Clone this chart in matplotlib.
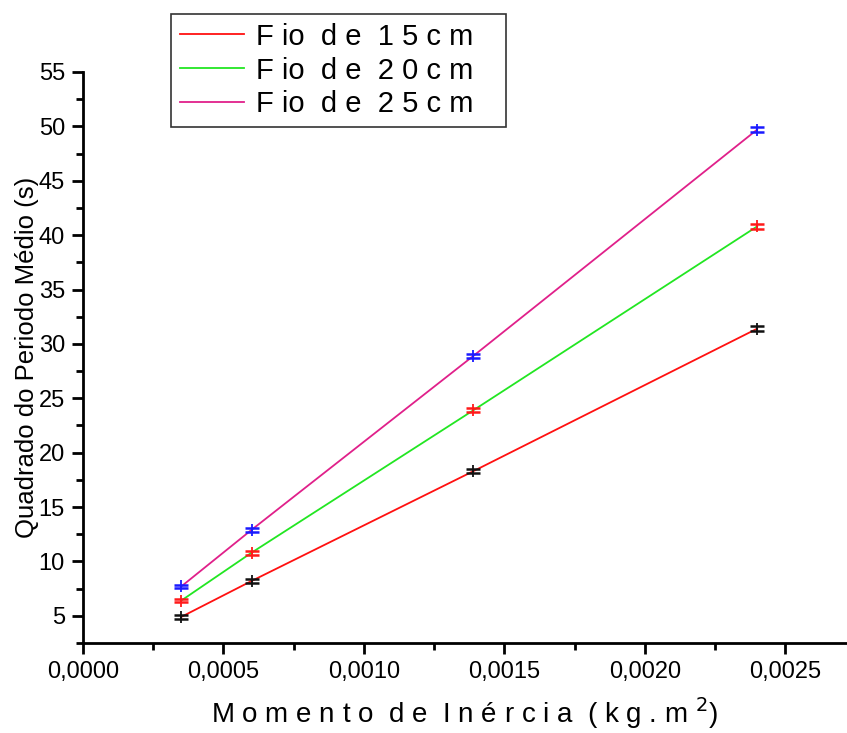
import numpy as np
import matplotlib
matplotlib.use('Agg')
from matplotlib import pyplot as plt
from matplotlib.ticker import MultipleLocator, FuncFormatter

# data
momento = [0.00035, 0.0006, 0.00139, 0.0024]
fio15 = [4.9, 8.2, 18.3, 31.4]
fio20 = [6.4, 10.8, 23.9, 40.8]
fio25 = [7.7, 12.9, 28.9, 49.7]
erro = [0.15, 0.2, 0.2, 0.2]

labels = ["F io  d e  1 5 c m   ", "F io  d e  2 0 c m   ", "F io  d e  2 5 c m   "]
line_colors = ['#ff1010', '#22e622', '#e0208a']
bar_colors = ['#111111', '#ff1a1a', '#1a1aff']

plt.rcParams['font.family'] = ['Liberation Sans', 'DejaVu Sans']

fig = plt.figure(figsize=(8.47, 7.33), dpi=100)
ax = fig.add_axes([0.098, 0.1228, 0.902, 0.779])

handles = []
for ys, lc, bc, lab in zip([fio15, fio20, fio25], line_colors, bar_colors, labels):
    h, = ax.plot(momento, ys, color=lc, lw=1.3, label=lab, zorder=2)
    handles.append(h)
    ax.errorbar(momento, ys, yerr=erro, fmt='none', ecolor=bc, elinewidth=1.3,
                capsize=5, capthick=1.8, zorder=3)
    ax.plot(momento, ys, ls='none', marker='|', ms=9, mew=1.3, color=bc, zorder=3)

ax.set_xlim(0, 0.00272)
ax.set_ylim(2.5, 55)

ax.spines['top'].set_visible(False)
ax.spines['right'].set_visible(False)
ax.spines['left'].set_linewidth(2)
ax.spines['bottom'].set_linewidth(2)

ax.xaxis.set_major_locator(MultipleLocator(0.0005))
ax.xaxis.set_minor_locator(MultipleLocator(0.00025))
ax.yaxis.set_minor_locator(MultipleLocator(2.5))
ax.set_yticks([5, 10, 15, 20, 25, 30, 35, 40, 45, 50, 55])
ax.xaxis.set_major_formatter(FuncFormatter(lambda v, p: ("%.4f" % v).replace('.', ',')))
ax.tick_params(which='major', direction='out', length=8, width=2, labelsize=17, pad=5)
ax.tick_params(which='minor', direction='out', length=5, width=2)

ax.set_ylabel("Quadrado do Periodo Médio (s)", fontsize=18.5, labelpad=0)
ax.set_xlabel("M o m e n t o  d e  I n é r c i a  ( k g . m $^{2}$)", fontsize=20, labelpad=9)

leg = fig.legend(handles=handles, loc='upper left', bbox_to_anchor=(0.202, 0.981),
                 bbox_transform=fig.transFigure, frameon=True, fancybox=False,
                 borderaxespad=0, handlelength=2.2, handletextpad=0.4, labelspacing=0.2,
                 borderpad=0.3, prop={'size': 21})
leg.get_frame().set_edgecolor('black')
leg.get_frame().set_linewidth(1.2)

plt.savefig('out.png', dpi=100)
